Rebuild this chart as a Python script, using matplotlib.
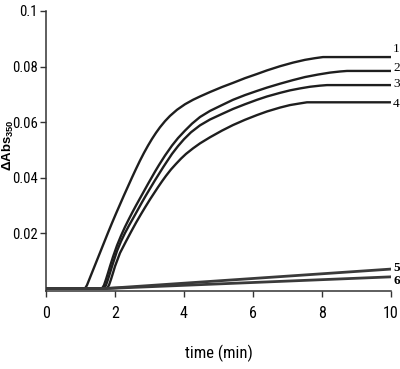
import numpy as np
import matplotlib
matplotlib.use("Agg")
import matplotlib.pyplot as plt
from matplotlib import font_manager

# curves (time in min, delta Abs350)
t1 = [0, 1.130, 1.188, 1.246, 1.304, 1.391, 1.478, 1.565, 1.681, 1.797, 1.913, 2.029, 2.145,
      2.261, 2.377, 2.493, 2.609, 2.725, 2.841, 2.957, 3.072, 3.188, 3.304, 3.449, 3.594,
      3.797, 4.029, 4.261, 4.464, 4.754, 5.101, 5.420, 5.768, 6.116, 6.406, 6.783, 7.159,
      7.507, 7.797, 8.029, 10]
a1 = [0, 0, 0.0012, 0.0030, 0.0048, 0.0075, 0.0102, 0.0129, 0.0165, 0.0201, 0.0236, 0.0270,
      0.0303, 0.0336, 0.0368, 0.0400, 0.0431, 0.0461, 0.0489, 0.0515, 0.0539, 0.0561, 0.0581,
      0.0603, 0.0622, 0.0644, 0.0664, 0.0680, 0.0692, 0.0708, 0.0726, 0.0741, 0.0758, 0.0773,
      0.0786, 0.0801, 0.0814, 0.0824, 0.0830, 0.0834, 0.0834]

t2 = [0, 1.623, 1.681, 1.739, 1.797, 1.855, 1.942, 2.058, 2.174, 2.290, 2.406, 2.493, 2.609,
      2.725, 2.841, 2.957, 3.072, 3.159, 3.275, 3.449, 3.652, 3.826, 4.029, 4.232, 4.464,
      4.754, 5.101, 5.420, 5.768, 6.116, 6.406, 6.783, 7.159, 7.507, 7.884, 8.232, 8.522,
      8.725, 10]
a2 = [0, 0, 0.0012, 0.0033, 0.0056, 0.0080, 0.0114, 0.0155, 0.0190, 0.0222, 0.0251, 0.0272,
      0.0299, 0.0325, 0.0351, 0.0377, 0.0402, 0.0421, 0.0445, 0.0479, 0.0515, 0.0542, 0.0569,
      0.0594, 0.0618, 0.0640, 0.0661, 0.0680, 0.0697, 0.0712, 0.0724, 0.0738, 0.0751, 0.0762,
      0.0771, 0.0778, 0.0782, 0.0784, 0.0784]

t3 = [0, 1.681, 1.739, 1.797, 1.855, 1.913, 2.058, 2.174, 2.290, 2.406, 2.551, 2.667, 2.783,
      2.899, 3.043, 3.159, 3.275, 3.391, 3.507, 3.652, 3.826, 4.000, 4.203, 4.464, 4.754,
      5.101, 5.420, 5.768, 6.116, 6.406, 6.783, 7.072, 7.362, 7.652, 7.942, 8.145, 10]
a3 = [0, 0, 0.0012, 0.0033, 0.0056, 0.0080, 0.0135, 0.0170, 0.0200, 0.0227, 0.0259, 0.0285,
      0.0311, 0.0336, 0.0366, 0.0390, 0.0413, 0.0436, 0.0458, 0.0485, 0.0513, 0.0538, 0.0563,
      0.0588, 0.0609, 0.0629, 0.0647, 0.0664, 0.0680, 0.0692, 0.0705, 0.0714, 0.0721, 0.0727,
      0.0731, 0.0733, 0.0733]

t4 = [0, 1.768, 1.826, 1.884, 1.942, 2.000, 2.145, 2.319, 2.464, 2.609, 2.754, 2.870, 3.014,
      3.130, 3.246, 3.362, 3.478, 3.623, 3.768, 3.913, 4.058, 4.261, 4.464, 4.754, 5.101,
      5.420, 5.768, 6.116, 6.406, 6.783, 7.072, 7.362, 7.565, 10]
a4 = [0, 0, 0.0012, 0.0033, 0.0056, 0.0080, 0.0128, 0.0170, 0.0204, 0.0237, 0.0268, 0.0292,
      0.0321, 0.0343, 0.0365, 0.0386, 0.0406, 0.0429, 0.0449, 0.0468, 0.0485, 0.0505, 0.0523,
      0.0545, 0.0569, 0.0589, 0.0608, 0.0625, 0.0638, 0.0652, 0.0661, 0.0667, 0.0671, 0.0671]

t5 = [0, 1.74, 10]
a5 = [0, 0, 0.0070]

t6 = [0, 1.74, 10]
a6 = [0, 0, 0.0042]

curve_labels = ["1", "2", "3", "4", "5", "6"]
xticks = [0, 2, 4, 6, 8, 10]
yticks = [0.02, 0.04, 0.06, 0.08, 0.1]
ytick_labels = ["0.02", "0.04", "0.06", "0.08", "0.1"]

# the tick labels in the picture are in a narrow sans, take the narrowest one we have
names = set(f.name for f in font_manager.fontManager.ttflist)
pref = ["Liberation Sans Narrow", "Arial Narrow", "Noto Sans Condensed",
        "Roboto Condensed", "Open Sans Condensed", "Noto Sans SemiCondensed"]
found = [n for n in pref if n in names]
if found:
    narrow = [found[0], "DejaVu Sans"]
    tick_size = 11
elif "DejaVu Sans Condensed" in names:
    narrow = ["DejaVu Sans Condensed", "DejaVu Sans"]
    tick_size = 10.5
else:
    narrow = ["Liberation Sans", "DejaVu Sans"]
    tick_size = 10

fig = plt.figure(figsize=(4.0, 3.69), dpi=100)
ax = fig.add_axes([46 / 400, 78 / 369, 345 / 400, 280 / 369])

curves = [(t1, a1), (t2, a2), (t3, a3), (t4, a4), (t5, a5), (t6, a6)]
for i, (t, a) in enumerate(curves):
    if i < 4:
        ax.plot(t, a, color="#1e1e1e", lw=1.7, solid_joinstyle="round")
    else:
        ax.plot(t, a, color="#3a3a3a", lw=2.0)

# curve numbers at the right end
offsets = [6, 2, 1, -1, 1, -3]
for i, (t, a) in enumerate(curves):
    ax.annotate(curve_labels[i], (t[-1], a[-1]), xytext=(4, offsets[i]),
                textcoords="offset points", ha="center", va="center",
                fontsize=9.5, family="Liberation Serif",
                fontweight="bold" if i >= 4 else "normal",
                annotation_clip=False)

ax.set_xlim(0, 10)
ax.set_ylim(-0.0009, 0.1)
ax.set_xticks(xticks)
ax.set_xticklabels([str(x) for x in xticks], family=narrow, fontsize=tick_size + 0.5)
ax.set_yticks(yticks)
ax.set_yticklabels(ytick_labels, family=narrow, fontsize=tick_size - 0.5)

for s in ["top", "right"]:
    ax.spines[s].set_visible(False)
for s in ["left", "bottom"]:
    ax.spines[s].set_color("#333333")
    ax.spines[s].set_linewidth(1.1)
ax.tick_params(direction="out", length=4, width=1, color="#333333", pad=2)
ax.tick_params(axis="x", pad=7)

ax.set_xlabel("time (min)", family=narrow, fontsize=tick_size + 1, labelpad=17)
fig.text(0.5 / 400, 1 - 145 / 369, r"ΔAbs$_{\mathregular{350}}$", rotation=90,
         ha="left", va="center", fontsize=9.5, fontweight="bold",
         family="Liberation Sans")

fig.savefig("out.png", dpi=100)
